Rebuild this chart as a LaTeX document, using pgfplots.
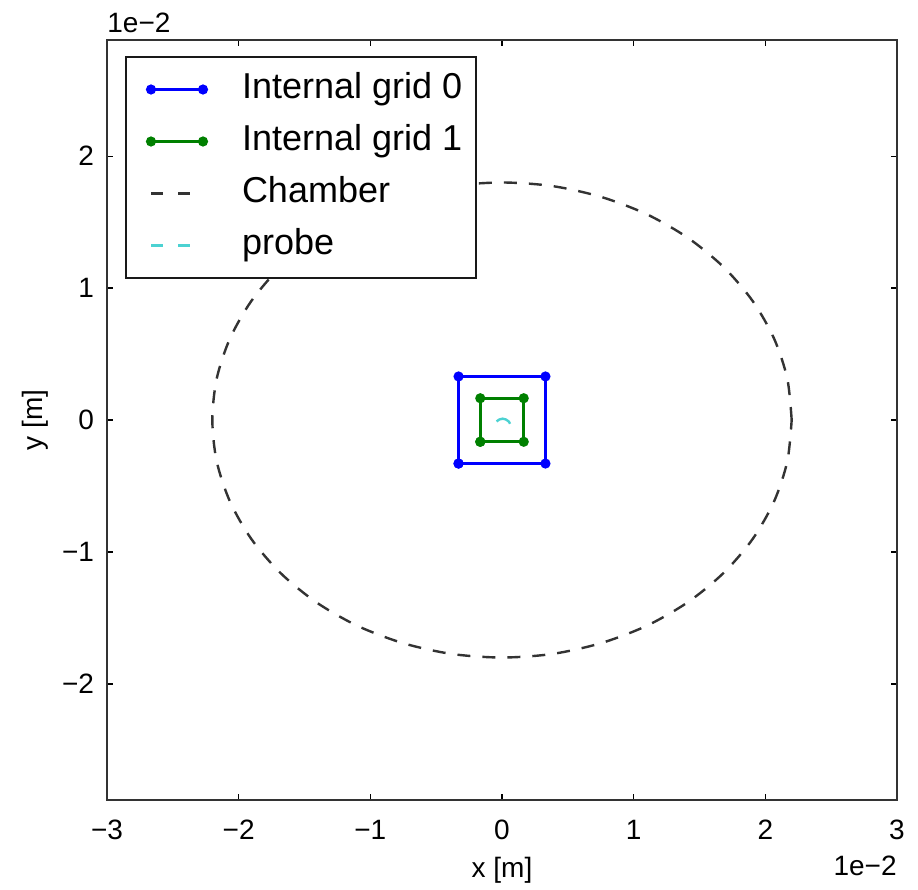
\documentclass[border=0pt]{standalone}
\usepackage{fontspec}
\setmainfont{Liberation Sans}
\usepackage{pgfplots}
\pgfplotsset{compat=1.18}
\definecolor{mplblue}{rgb}{0,0,1}
\definecolor{mplgreen}{rgb}{0,0.5,0}
\definecolor{mplcyan}{rgb}{0,0.75,0.75}
\begin{document}
\begin{tikzpicture}
\begin{axis}[
  scale only axis,
  width=395pt, height=380pt,
  xmin=-3, xmax=3, ymin=-2.88, ymax=2.88,
  xtick={-3,-2,-1,0,1,2,3},
  xticklabels={−3,−2,−1,0,1,2,3},
  ytick={-2,-1,0,1,2},
  yticklabels={−2,−1,0,1,2},
  tick align=inside,
  major tick length=3pt,
  tick style={black, line width=0.6pt},
  axis line style={line width=1pt, black!80},
  ticklabel style={font=\fontsize{14}{16}\selectfont},
  xticklabel style={yshift=-6.5pt},
  yticklabel style={xshift=-3pt},
  xlabel={x [m]}, ylabel={y [m]},
  label style={font=\fontsize{14}{16}\selectfont},
  xlabel style={at={(rel axis cs:0.5,0)}, anchor=center, yshift=-35pt},
  ylabel style={at={(rel axis cs:0,0.5)}, anchor=center, rotate=0, yshift=36pt},
  legend style={at={(rel axis cs:0,1)}, anchor=north west,
    xshift=9pt, yshift=-8pt, draw=black!90, line width=1pt,
    font=\fontsize{18}{20}\selectfont, inner xsep=1pt, inner ysep=3.25pt,
    row sep=0pt, cells={anchor=west},
    nodes={text height=13pt, text depth=4pt, inner ysep=4.5pt, inner xsep=6pt},
    /tikz/every even column/.append style={column sep=0pt}},
  legend cell align=left,
  legend image code/.code={\path[draw=none] (0pt,0pt) -- (51pt,0pt);\draw[#1,mark repeat=1] plot coordinates {(11.5pt,0pt) (37.5pt,0pt)};},
  clip=false,
]
\addplot[mplblue, line width=1.4pt, mark=*, mark size=1.8pt] coordinates {
 (-0.33,-0.33) (0.33,-0.33) (0.33,0.33) (-0.33,0.33) (-0.33,-0.33)};
\addlegendentry{Internal grid 0}
\addplot[mplgreen, line width=1.4pt, mark=*, mark size=1.8pt] coordinates {
 (-0.165,-0.165) (0.165,-0.165) (0.165,0.165) (-0.165,0.165) (-0.165,-0.165)};
\addlegendentry{Internal grid 1}
\addplot[black!80, line width=1.2pt, dash pattern=on 6.5pt off 6pt, smooth,
  legend image post style={dash pattern=on 6pt off 7.5pt}] coordinates {
 (2.2,0) (2.167,0.3125) (2.067,0.6156) (1.905,0.9) (1.685,1.157) (1.414,1.379)
 (1.1,1.559) (0.752,1.691) (0.382,1.773) (0,1.8)
 (-0.382,1.773) (-0.752,1.691) (-1.1,1.559) (-1.414,1.379) (-1.685,1.157)
 (-1.905,0.9) (-2.067,0.6156) (-2.167,0.3125) (-2.2,0)
 (-2.167,-0.3125) (-2.067,-0.6156) (-1.905,-0.9) (-1.685,-1.157) (-1.414,-1.379)
 (-1.1,-1.559) (-0.752,-1.691) (-0.382,-1.773) (0,-1.8)
 (0.382,-1.773) (0.752,-1.691) (1.1,-1.559) (1.414,-1.379) (1.685,-1.157)
 (1.905,-0.9) (2.067,-0.6156) (2.167,-0.3125) (2.2,0)};
\addlegendentry{Chamber}
\addplot[mplcyan!70!white, line width=1.2pt, smooth,
  legend image post style={dash pattern=on 6pt off 7.5pt}] coordinates {
 (-0.041,-0.011) (-0.020,0.004) (0.005,0.01) (0.030,0.004) (0.051,-0.011) (0.061,-0.029)};
\addlegendentry{probe}
\node[anchor=south west, font=\fontsize{14}{16}\selectfont, inner sep=0pt] at (rel axis cs:0,1) [yshift=3.5pt] {1e−2};
\node[anchor=base east, font=\fontsize{14}{16}\selectfont, inner sep=0pt] at (rel axis cs:1,0) [yshift=-37.5pt] {1e−2};
\path (rel axis cs:0,0) ++(-53.5pt,-42.5pt) coordinate (bbsw);
\path (rel axis cs:1,1) ++(10.5pt,20pt) coordinate (bbne);
\end{axis}
\end{tikzpicture}
\end{document}
